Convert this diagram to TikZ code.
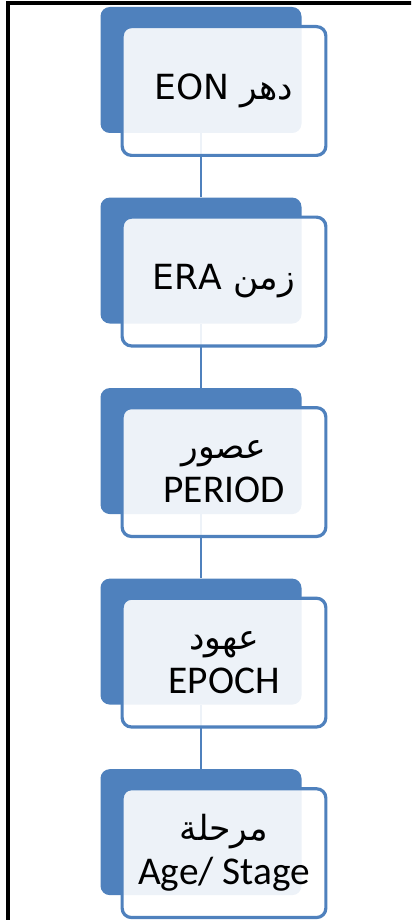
\documentclass[tikz,border=0pt]{standalone}
\usepackage{fontspec}
\setmainfont{Carlito}
\newfontfamily\arabicfont[Script=Arabic,Scale=0.88]{DejaVu Sans}
\TeXXeTstate=1
\usetikzlibrary{positioning}
\definecolor{tlblue}{RGB}{79,129,189}
\newcommand{\ar}[1]{{\arabicfont\beginR #1\endR}}

\begin{document}
\begin{tikzpicture}[
  x=0.75pt, y=-0.75pt,
  node distance=48pt,
  every node/.style={font=\fontsize{29.5}{33}\selectfont},
  back/.style={fill=tlblue, rounded corners=7pt, inner sep=0pt,
    minimum width=150.75pt, minimum height=94.5pt},
  front/.style={draw=tlblue, line width=2.4pt, fill=white, fill opacity=0.9,
    text opacity=1, rounded corners=7pt, align=center,
    minimum width=152.8pt, minimum height=96.6pt, shift={(17.25pt,-15.75pt)}},
  link/.style={draw=tlblue, line width=2.2pt},
  frame/.style={draw=black, line width=2.4pt}
]
  \useasboundingbox (0,0) rectangle (411,920);
  \clip (0,0) rectangle (411,920);

  % back plates
  \node[back] (b1) at (201,70) {};
  \node[back, below=of b1] (b2) {};
  \node[back, below=of b2] (b3) {};
  \node[back, below=of b3] (b4) {};
  \node[back, below=of b4] (b5) {};

  \draw[link] (b1) -- (b2);
  \draw[link] (b2) -- (b3);
  \draw[link] (b3) -- (b4);
  \draw[link] (b4) -- (b5);

  % front cards
  \node[front] (eon) at (b1) {\ar{دهر \beginL EON\endL}};
  \node[front] (era) at (b2) {\ar{زمن \beginL ERA\endL}};
  \node[front] (period) at (b3) {\ar{عصور}\\PERIOD};
  \node[front] (epoch) at (b4) {\ar{عهود}\\EPOCH};
  \node[front] (stage) at (b5) {\ar{مرحلة}\\Age/ Stage};

  \draw[frame] (8,3) rectangle (430,940);
\end{tikzpicture}
\end{document}
